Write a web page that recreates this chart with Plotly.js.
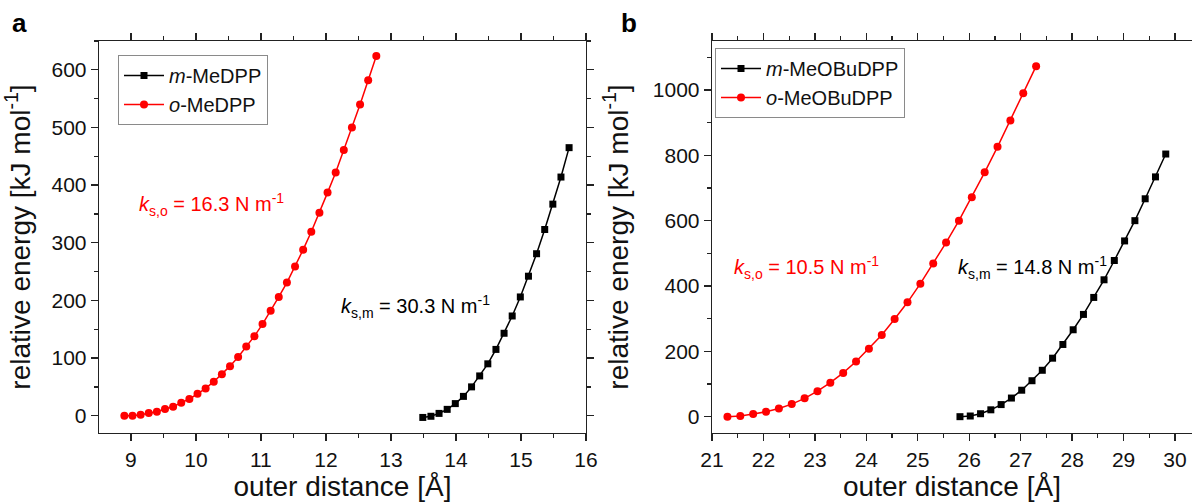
<!DOCTYPE html>
<html>
<head>
<meta charset="utf-8">
<script src="https://cdn.plot.ly/plotly-3.0.1.min.js"></script>
<style>
  html, body { margin: 0; padding: 0; background: #fff; }
  #chart { width: 1192px; height: 502px; }
</style>
</head>
<body>
<div id="chart"></div>
<script>
// ---------- Panel a data ----------
const aNames = ["<i>m</i>-MeDPP", "<i>o</i>-MeDPP"];
const aX_m = [13.49, 13.615, 13.74, 13.865, 13.99, 14.115, 14.24, 14.365, 14.49, 14.615,
              14.74, 14.865, 14.99, 15.115, 15.24, 15.365, 15.49, 15.615, 15.74];
const aY_m = [-3, -1, 4, 11, 21, 33.5, 50, 69, 90, 115,
              143, 173, 206, 242, 281, 323, 367, 414, 465];
const aX_o = [8.9, 9.025, 9.15, 9.275, 9.4, 9.525, 9.65, 9.775, 9.9, 10.025,
              10.15, 10.275, 10.4, 10.525, 10.65, 10.775, 10.9, 11.025, 11.15, 11.275,
              11.4, 11.525, 11.65, 11.775, 11.9, 12.025, 12.15, 12.275, 12.4, 12.525,
              12.65, 12.775];
const aY_o = [0, 0, 1.7, 4.6, 7, 11.6, 15.6, 22.6, 29, 38,
              47.4, 59, 71.7, 86, 102, 120, 138, 159, 182, 206,
              231, 259, 288, 319, 352, 387, 422, 461, 500, 540,
              582, 624];
const aLabel_m = "<i>k</i><sub>s,m</sub> = 30.3 N m<sup>-1</sup>";
const aLabel_o = "<i>k</i><sub>s,o</sub> = 16.3 N m<sup>-1</sup>";

// ---------- Panel b data ----------
const bNames = ["<i>m</i>-MeOBuDPP", "<i>o</i>-MeOBuDPP"];
const bX_m = [25.82, 26.02, 26.22, 26.42, 26.62, 26.82, 27.02, 27.22, 27.42, 27.62,
              27.82, 28.02, 28.22, 28.42, 28.62, 28.82, 29.02, 29.22, 29.42, 29.62, 29.82];
const bY_m = [0, 2, 9, 21, 37, 57, 81, 110, 142, 179,
              221, 266, 313, 365, 419, 478, 538, 600, 667, 734, 804];
const bX_o = [21.3, 21.55, 21.8, 22.05, 22.3, 22.55, 22.8, 23.05, 23.3, 23.55,
              23.8, 24.05, 24.3, 24.55, 24.8, 25.05, 25.3, 25.55, 25.8, 26.05,
              26.3, 26.55, 26.8, 27.05, 27.3];
const bY_o = [0, 2, 8, 15, 25, 38.5, 56, 78, 104, 134,
              169, 208, 250, 299, 350, 407, 469, 533, 600, 672,
              748, 826, 907, 990, 1073];
const bLabel_m = "<i>k</i><sub>s,m</sub> = 14.8 N m<sup>-1</sup>";
const bLabel_o = "<i>k</i><sub>s,o</sub> = 10.5 N m<sup>-1</sup>";

const xTitle = "outer distance [Å]";
const yTitle = "relative energy [kJ mol<sup>-1</sup>]";

// ---------- styling ----------
const FONT = "Liberation Sans, Arial, sans-serif";
const AX = "#222";
const RED = "#ff0000";
const BLK = "#000000";

function trace(x, y, name, color, symbol, size, xa, ya, leg) {
  return {
    x: x, y: y, name: name, type: "scatter", mode: "lines+markers",
    xaxis: xa, yaxis: ya, legend: leg,
    line: { color: color, width: 1.5 },
    marker: { color: color, symbol: symbol, size: size }
  };
}

const data = [
  trace(aX_m, aY_m, aNames[0], BLK, "square", 7, "x", "y", "legend"),
  trace(aX_o, aY_o, aNames[1], RED, "circle", 8, "x", "y", "legend"),
  trace(bX_m, bY_m, bNames[0], BLK, "square", 7, "x2", "y2", "legend2"),
  trace(bX_o, bY_o, bNames[1], RED, "circle", 8, "x2", "y2", "legend2")
];

const W = 1192, H = 502;
const yDom = [1 - 433 / H, 1 - 41 / H];
const aDom = [99 / W, 586 / W], bDom = [712 / W, 1];

function mainX(dom, range, anchor) {
  return {
    domain: dom, range: range, anchor: anchor, dtick: 1, tick0: 0,
    ticks: "outside", ticklen: 7, tickwidth: 1.3, tickcolor: AX,
    showline: true, linecolor: AX, linewidth: 1.3, mirror: "ticks",
    showgrid: false, zeroline: false,
    tickfont: { size: 21, color: "#111", family: FONT },
    minor: { dtick: 0.5, ticks: "outside", ticklen: 4, tickwidth: 1.3, tickcolor: AX, showgrid: false },
    title: { text: xTitle, font: { size: 28, color: "#111", family: FONT }, standoff: 12 }
  };
}
function mainY(dtick, minor, range, anchor) {
  return {
    domain: yDom, range: range, anchor: anchor, dtick: dtick, tick0: 0,
    ticks: "outside", ticklen: 7, tickwidth: 1.3, tickcolor: AX,
    showline: true, linecolor: AX, linewidth: 1.3, mirror: "ticks",
    showgrid: false, zeroline: false,
    tickfont: { size: 21, color: "#111", family: FONT },
    minor: { dtick: minor, ticks: "outside", ticklen: 4, tickwidth: 1.3, tickcolor: AX, showgrid: false },
    title: { text: yTitle, font: { size: 28, color: "#111", family: FONT }, standoff: 16 }
  };
}

const aXR = [8.51, 16.0], aYR = [-30, 650];
const bXR = [21.0, 30.33], bYR = [-50, 1150];

const legendCommon = {
  bgcolor: "#ffffff", bordercolor: "#8a8a8a", borderwidth: 1,
  font: { size: 20, color: "#111", family: FONT },
  xanchor: "left", yanchor: "top", itemwidth: 40, tracegroupgap: 0
};

const annFont = (c) => ({ size: 20, color: c, family: FONT });

const layout = {
  width: W, height: H,
  margin: { l: 0, r: 0, t: 0, b: 0 },
  paper_bgcolor: "#fff", plot_bgcolor: "#fff",
  font: { family: FONT, color: "#111" },
  xaxis: mainX(aDom, aXR, "y"),
  yaxis: mainY(100, 50, aYR, "x"),
  xaxis2: mainX(bDom, bXR, "y2"),
  yaxis2: mainY(200, 100, bYR, "x2"),
  legend: Object.assign({}, legendCommon, { x: 118 / W, y: 1 - 55 / H }),
  legend2: Object.assign({}, legendCommon, { x: 715 / W, y: 1 - 48 / H }),
  annotations: [
    { text: "<b>a</b>", xref: "paper", yref: "paper", x: 10 / W, y: 1 - 6 / H,
      xanchor: "left", yanchor: "top", showarrow: false,
      font: { size: 26, color: "#000", family: FONT } },
    { text: "<b>b</b>", xref: "paper", yref: "paper", x: 619 / W, y: 1 - 6 / H,
      xanchor: "left", yanchor: "top", showarrow: false,
      font: { size: 26, color: "#000", family: FONT } },
    { text: aLabel_o, xref: "x", yref: "y", x: 9.1, y: 366, xanchor: "left", yanchor: "middle",
      showarrow: false, font: annFont(RED) },
    { text: aLabel_m, xref: "x", yref: "y", x: 12.2, y: 190, xanchor: "left", yanchor: "middle",
      showarrow: false, font: annFont(BLK) },
    { text: bLabel_o, xref: "x2", yref: "y2", x: 21.39, y: 457, xanchor: "left", yanchor: "middle",
      showarrow: false, font: annFont(RED) },
    { text: bLabel_m, xref: "x2", yref: "y2", x: 25.74, y: 457, xanchor: "left", yanchor: "middle",
      showarrow: false, font: annFont(BLK) }
  ]
};

Plotly.newPlot("chart", data, layout, { staticPlot: true, displayModeBar: false });
</script>
</body>
</html>
